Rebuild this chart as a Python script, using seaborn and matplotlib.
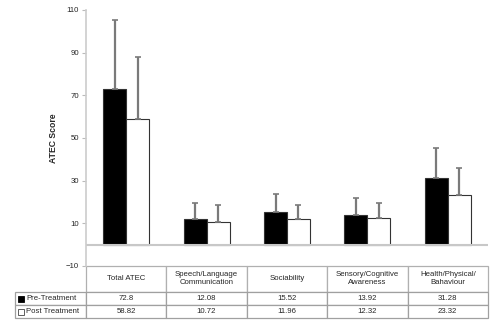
import matplotlib
matplotlib.use("Agg")
import matplotlib.pyplot as plt
import seaborn as sns
import pandas as pd

categories = ["Total ATEC", "Speech/Language\nCommunication", "Sociability",
              "Sensory/Cognitive\nAwareness", "Health/Physical/\nBahaviour"]
series_names = ["Pre-Treatment", "Post Treatment"]
series_colors = ["black", "white"]
pre_values = [72.8, 12.08, 15.52, 13.92, 31.28]
post_values = [58.82, 10.72, 11.96, 12.32, 23.32]
pre_err = [32.6, 7.4, 8.2, 8.0, 14.1]
post_err = [29.2, 7.9, 6.6, 7.2, 12.7]
pre_labels = ["72.8", "12.08", "15.52", "13.92", "31.28"]
post_labels = ["58.82", "10.72", "11.96", "12.32", "23.32"]
yticks = [-10, 10, 30, 50, 70, 90, 110]

sns.set_style("white")
plt.rcParams['font.family'] = ['Liberation Sans', 'DejaVu Sans']

df = pd.DataFrame({
    "Category": categories * 2,
    "Series": [series_names[0]] * 5 + [series_names[1]] * 5,
    "Score": pre_values + post_values,
})

fig = plt.figure(figsize=(5, 3.24), dpi=100)
W, H = 500, 324
ax = fig.add_axes([86 / W, 1 - 266 / H, (488 - 86) / W, (266 - 10) / H])

sns.barplot(data=df, x="Category", y="Score", hue="Series", order=categories,
            hue_order=series_names, palette=series_colors, width=0.57,
            gap=0, edgecolor="#333333", linewidth=0.8, errorbar=None,
            legend=False, ax=ax)

for cont, errs in zip(ax.containers, [pre_err, post_err]):
    xs = [p.get_x() + p.get_width() / 2 for p in cont]
    ys = [p.get_height() for p in cont]
    _, caps, _ = ax.errorbar(xs, ys, yerr=[[0] * len(errs), errs], fmt="none",
                             ecolor="#7a7a7a", elinewidth=1.6, capsize=2.2,
                             capthick=1.2, zorder=3)
    for c in caps:
        c.set_color("#222222")

ax.set_ylim(-10, 110)
ax.set_xlim(-0.5, len(categories) - 0.5)
ax.set_yticks(yticks)
ax.set_xticks([])
ax.set_xlabel("")
ax.set_ylabel("ATEC Score", fontsize=6.2, fontweight="bold", labelpad=6)
ax.tick_params(axis="y", labelsize=5.6, length=3, width=0.8, color="#bbbbbb",
               pad=2, left=True)
for s in ["top", "right", "bottom"]:
    ax.spines[s].set_visible(False)
ax.spines["left"].set_color("#cccccc")
ax.spines["left"].set_linewidth(1.2)
ax.axhline(0, color="#c8c8c8", lw=1.5, zorder=1)

# data table below the axes
axh = 266 - 10
axw = 488 - 86
tbl = ax.table(cellText=[pre_labels, post_labels],
               rowLabels=series_names,
               colLabels=categories, colWidths=[0.2] * 5,
               cellLoc="center", rowLoc="left", colLoc="center",
               bbox=[0, -52 / axh, 1, 52 / axh])
tbl._autoColumns = []
tbl.auto_set_font_size(False)
tbl.set_fontsize(5.6)
for (r, c), cell in tbl.get_celld().items():
    cell.set_edgecolor("#b0b0b0" if r == 0 else "#a0a0a0")
    cell.set_linewidth(0.9)
    if r == 0:
        cell.set_height(26 / 52)
    else:
        cell.set_height(13 / 52)
    if c == -1:
        cell.set_width((86 - 15) / axw)
        cell.PAD = 0.155

# legend keys inside the row label cells
for i, (col, ms) in enumerate(zip(series_colors, [4.8, 3.8])):
    ycen = (266 - (298.5 + 13 * i)) / axh
    ax.plot([(20.5 - 86) / axw], [ycen], marker="s", ms=ms, mfc=col,
            mec="#444444" if col == "white" else "black", mew=0.6,
            transform=ax.transAxes, clip_on=False, ls="none")

fig.savefig("out.png", dpi=100)
